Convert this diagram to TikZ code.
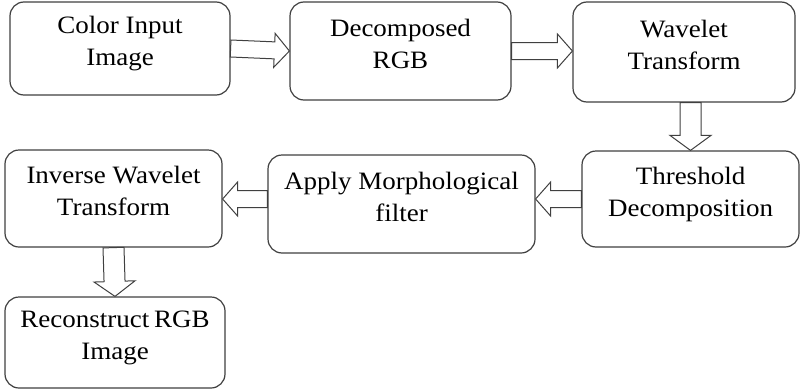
\documentclass[tikz,border=0pt]{standalone}
\usepackage{fontspec}
\setmainfont{Liberation Serif}[FakeStretch=1.08]
\usepackage{tikz}
\usetikzlibrary{calc}
\definecolor{edge}{HTML}{404040}
\newcommand{\ashaft}{8.5pt}
\newcommand{\ahead}{17pt}
\newcommand{\ahlen}{15pt}
\tikzset{
  stage/.style={draw=edge, line width=1.2pt, rounded corners=14pt, fill=white,
    align=center, inner sep=2pt, text depth=15pt, font=\fontsize{25}{32}\selectfont},
  wide/.code={\renewcommand{\ashaft}{10.5pt}\renewcommand{\ahead}{20.5pt}},
  barrow/.style={draw=edge, line width=1pt, fill=white, line join=miter,
    to path={let \p1=(\tikztostart), \p2=(\tikztotarget),
      \p3=($(\p2)!\ahlen!(\p1)$) in
      ($(\p1)!\ashaft!90:(\p2)$) -- ($(\p3)!\ashaft!90:(\p2)$)
      -- ($(\p3)!\ahead!90:(\p2)$) -- (\p2) -- ($(\p3)!\ahead!-90:(\p2)$)
      -- ($(\p3)!\ashaft!-90:(\p2)$) -- ($(\p1)!\ashaft!-90:(\p2)$) -- cycle}},
}

\begin{document}
\begin{tikzpicture}[x=1pt, y=-1pt]
  \useasboundingbox (0,0) rectangle (800,391);

  % first row
  \node[stage, minimum width=220pt, minimum height=93pt] (in) at (120,48.5) {Color Input\\Image};
  \node[stage, minimum width=221pt, minimum height=98pt] (rgb) at (400.5,51) {Decomposed\\RGB};
  \node[stage, minimum width=222pt, minimum height=100pt] (wav) at (684,52) {Wavelet\\Transform};

  % second row
  \node[stage, minimum width=217pt, minimum height=96pt] (thr) at (690.5,199) {Threshold\\Decomposition};
  \node[stage, minimum width=267pt, minimum height=98pt] (morph) at (401.5,204) {Apply Morphological\\filter};
  \node[stage, minimum width=217pt, minimum height=97pt] (inv) at (113.5,198.5) {Inverse Wavelet\\Transform};

  % last
  \node[stage, minimum width=220pt, minimum height=91pt] (rec) at (115,342.5) {Reconstruct\hspace{-2pt} RGB\\Image};

  \draw[barrow] (in.east) to (rgb.west);
  \draw[barrow] (rgb.east) to (rgb.east -| wav.west);
  \draw[barrow, wide] (wav.south -| thr.north) to (thr.north);
  \draw[barrow] (thr.west) to (thr.west -| morph.east);
  \draw[barrow] (morph.west |- thr.west) to (thr.west -| inv.east);
  \draw[barrow, wide] (inv.south) to (rec.north);
\end{tikzpicture}
\end{document}
